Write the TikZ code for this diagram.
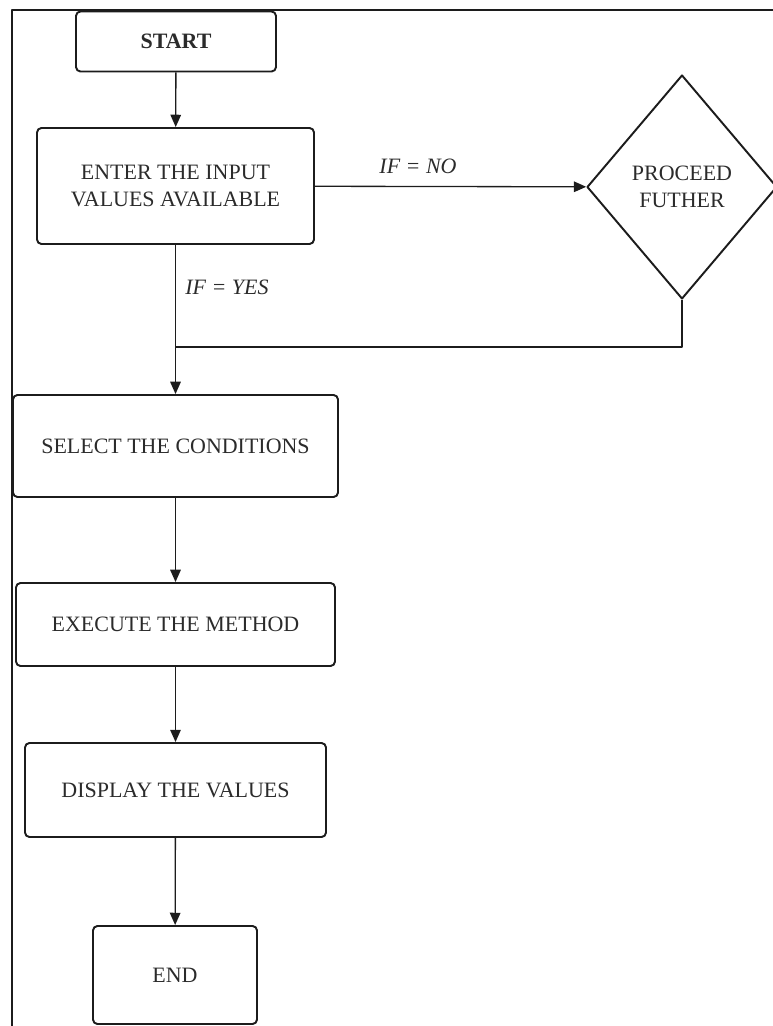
\documentclass[tikz,border=0pt]{standalone}
\usepackage{fontspec}
\setmainfont{Liberation Serif}
\usepackage{xcolor}
\usetikzlibrary{arrows.meta,shapes.geometric}
\definecolor{ink}{HTML}{2B2B2B}
\definecolor{edge}{HTML}{1C1C1C}
\tikzset{fig/.style={line join=round,>={Triangle[length=7pt,width=6pt]}},
  stepbox/.style={draw=edge,line width=1.1pt,rounded corners=2.5pt,inner sep=0pt,align=center,text=ink,font=\fontsize{12.5}{15.5}\selectfont},
  decide/.style={draw=edge,diamond,line width=1.1pt,inner sep=0pt,align=center,text=ink,font=\fontsize{12.5}{15.5}\selectfont},
  lbl/.style={text=ink,font=\fontsize{12.5}{15}\selectfont\itshape,inner sep=0pt},
  flow/.style={draw=edge,line width=0.75pt}}
\begin{document}
\begin{tikzpicture}[fig,x=0.02cm,y=-0.02cm]
  \useasboundingbox(0,0)rectangle(772,1026);
  \draw[edge,line width=1.2pt](12,1030)--(12,10)--(776,10);
  \node[stepbox,minimum width=4cm,minimum height=1.2cm,font=\fontsize{12.5}{15.5}\selectfont\bfseries](start)at(176,41.5){START};
  \node[stepbox,minimum width=5.54cm,minimum height=2.32cm](enter)at(175.5,186){ENTER THE INPUT\\VALUES AVAILABLE};
  \node[decide,minimum width=3.8cm,minimum height=4.48cm](proceed)at(682,187){PROCEED\\FUTHER};
  \node[stepbox,minimum width=6.5cm,minimum height=2.04cm](select)at(175.5,446){SELECT THE CONDITIONS};
  \node[stepbox,minimum width=6.38cm,minimum height=1.66cm](execute)at(175.5,624.5){EXECUTE THE METHOD};
  \node[stepbox,minimum width=6.02cm,minimum height=1.88cm](display)at(175.5,790){DISPLAY THE VALUES};
  \node[stepbox,minimum width=3.28cm,minimum height=1.96cm](finish)at(175,975){END};
  \node[lbl](ifno)at(418,166){IF = NO};
  \node[lbl,anchor=west](ifyes)at(185,287){IF = YES};
  \coordinate(merge)at(176,347);
  \draw[flow,->](start)--(enter);
  \draw[flow,->](enter)--(proceed);
  \draw[flow](proceed.south)|-(merge);
  \draw[flow,->](enter)--(select);
  \draw[flow,->](select)--(execute);
  \draw[flow,->](execute)--(display);
  \draw[flow,->](display)--(finish);
\end{tikzpicture}
\end{document}
